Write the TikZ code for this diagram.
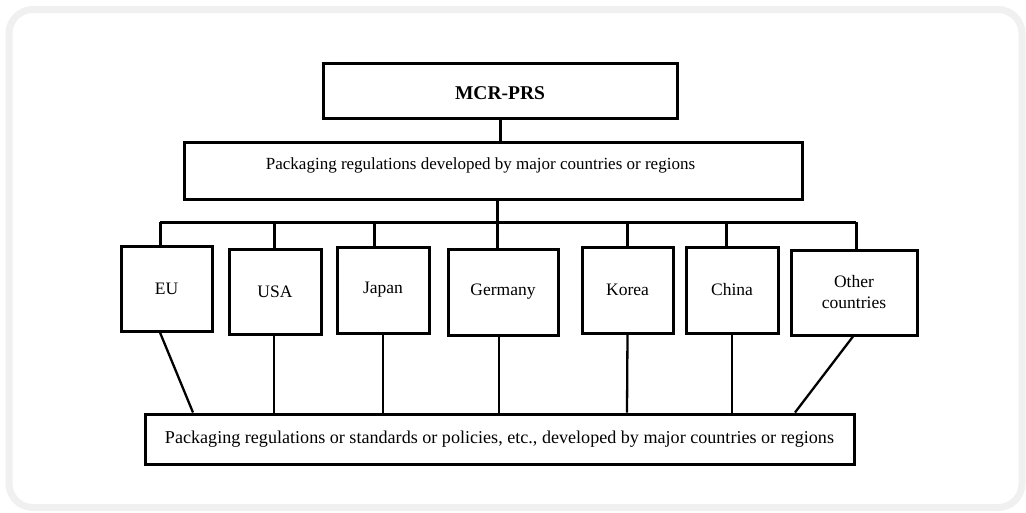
\documentclass[tikz,border=0pt]{standalone}
\usepackage{fontspec}
\setmainfont{Liberation Serif}
\begin{document}
\begin{tikzpicture}[x=1pt,y=-1pt,
  box/.style={draw=black, line width=3pt, inner sep=0pt, fill=white},
  link/.style={draw=black, line width=3pt},
  thinlink/.style={draw=black, line width=2.3pt},
  lbl/.style={font=\fontsize{17.5}{21}\selectfont, align=center},
  frame/.style={draw=black!6, line width=7pt, rounded corners=24pt}]
\useasboundingbox (0,0) rectangle (1026,512);

% outer card
\draw[frame] (9,9.5) rectangle (1022,507.5);

% top levels
\node[box, minimum width=354pt, minimum height=55pt] (mcr) at (500,90.5) {};
\node[font=\bfseries\fontsize{19.5}{23}\selectfont, inner sep=0pt] (mcrtext) at (500,93) {MCR-PRS};
\node[box, minimum width=618pt, minimum height=57pt] (pkg) at (493,170.5) {};
\node[font=\fontsize{17}{20}\selectfont, inner sep=0pt] (pkgtext) at (480.5,165)
  {Packaging regulations developed by major countries or regions};

% countries and regions
\node[box, lbl, minimum width=91pt, minimum height=85pt] (eu) at (166.5,288.5) {EU};
\node[box, lbl, minimum width=92pt, minimum height=85pt] (usa) at (275,291.5) {USA};
\node[box, lbl, minimum width=92pt, minimum height=86pt] (japan) at (383,290) {Japan};
\node[box, lbl, minimum width=110pt, minimum height=86pt] (germany) at (503,292) {Germany};
\node[box, lbl, minimum width=91pt, minimum height=86pt] (korea) at (627.5,290) {Korea};
\node[box, lbl, minimum width=92pt, minimum height=86pt] (china) at (732,290) {China};
\node[box, lbl, minimum width=126pt, minimum height=85pt] (other) at (854,292.5) {Other\\countries};

% bottom level
\node[box, font=\fontsize{18.1}{21}\selectfont, minimum width=709pt, minimum height=50pt] (bot) at (499.5,439)
  {Packaging regulations or standards or policies, etc., developed by major countries or regions};

% bus points
\coordinate (busEU) at (160,222);
\coordinate (busUS) at (274,222);
\coordinate (busJP) at (374,222);
\coordinate (busDE) at (497,222);
\coordinate (busKR) at (627,222);
\coordinate (busCN) at (726,222);
\coordinate (busOT) at (856,222);

% upper connectors
\draw[link] (mcr.south) -- (mcr.south |- pkg.north);
\draw[link] (busEU) -- (busOT);
\draw[link] (busDE |- pkg.south) -- (busDE |- germany.north);
\draw[link] (busEU) -- (busEU |- eu.north);
\draw[link] (busUS) -- (busUS |- usa.north);
\draw[link] (busJP) -- (busJP |- japan.north);
\draw[link] (busKR) -- (busKR |- korea.north);
\draw[link] (busCN) -- (busCN |- china.north);
\draw[link] (busOT) -- (busOT |- other.north);

% lower connectors
\draw[thinlink] ([xshift=-6.5pt]eu.south) -- ([xshift=-306.5pt]bot.north);
\draw[thinlink] ([xshift=-1pt]usa.south) -- ([xshift=-225.5pt]bot.north);
\draw[thinlink] (japan.south) -- ([xshift=-116.5pt]bot.north);
\draw[thinlink] ([xshift=-4pt]germany.south) -- ([xshift=-0.5pt]bot.north);
\draw[thinlink] (korea.south) -- ([xshift=127.5pt]bot.north);
\draw[thinlink] (china.south) -- ([xshift=232.5pt]bot.north);
\draw[thinlink] ([xshift=-1pt]other.south) -- ([xshift=295.5pt]bot.north);
\end{tikzpicture}
\end{document}
